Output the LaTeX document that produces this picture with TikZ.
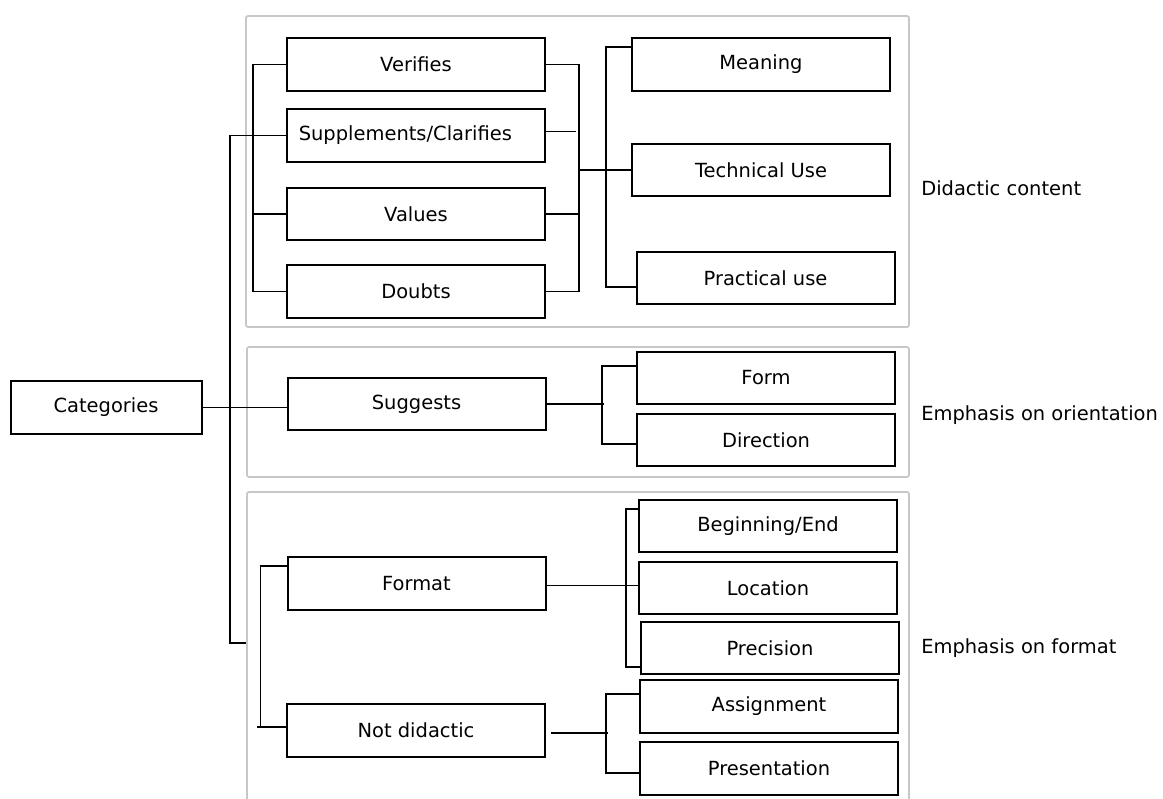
\documentclass[tikz,border=0pt]{standalone}
\usepackage{fontspec}
\setmainfont{DejaVu Sans}
\usepackage{tikz}

\tikzset{
  catbox/.style={draw, line width=1.5pt, minimum width=193.5pt, minimum height=39.5pt, inner sep=0pt, font=\fontsize{14.6}{17}\selectfont},
  groupbox/.style={draw=black!22, line width=1.3pt, rounded corners=1.5pt},
  grouplabel/.style={anchor=west, inner sep=0pt, font=\fontsize{14.6}{17}\selectfont},
  link/.style={line width=1.3pt}
}

\begin{document}
\begin{tikzpicture}[x=0.75pt,y=-0.75pt]
\useasboundingbox (0,0) rectangle (1163,799);

% group frames
\draw[groupbox] (246,16) rectangle (909,327);
\draw[groupbox] (247,347) rectangle (909,477);
\draw[groupbox] (247,799) |- (909,492) -- (909,799);

% root
\node[catbox, minimum width=143.25pt] (categories) at (106,407.5) {Categories};

% Didactic content
\node[catbox] (verifies) at (416,64.5) {Verifies};
\node[catbox] (supp) at (416,135.5) {\hspace*{-16pt}Supplements/Clarifies};
\node[catbox] (values) at (416,214) {Values};
\node[catbox] (doubts) at (416,291.5) {Doubts};
\node[catbox] (meaning) at (761,64.5) {Meaning};
\node[catbox] (techuse) at (761,170) {Technical Use};
\node[catbox] (practical) at (765.5,278) {Practical use};
\node[grouplabel] (didlabel) at (921,188) {Didactic content};

\draw[link] (verifies.west) -- ++(-33,0) |- (doubts.west);
\draw[link] (values.west) -- ++(-33,0);
\draw[link] (verifies.east) -- ++(33,0) coordinate (rb) |- (doubts.east);
\draw[link] (values.east) -- ++(33,0);
\draw[link] ([yshift=3pt]supp.east) -- ++(30,0);
\draw[link] (rb |- techuse.west) -- (techuse.west);
\draw[link] ([yshift=-7.5pt]meaning.north west) -- ++(-25,0) |- ([yshift=14pt]practical.south west);

% Emphasis on orientation
\node[catbox] (suggests) at (416.5,404) {Suggests};
\node[catbox] (form) at (766,378) {Form};
\node[catbox] (direction) at (766,440) {Direction};
\node[grouplabel] (orilabel) at (921,415) {Emphasis on orientation};

\draw[link] (categories.east) -- (categories.east -| suggests.west);
\draw[link] (suggests.east) -- ++(57,0);
\draw[link] ([yshift=9pt]form.west) -- ++(-34,0) |- ([yshift=-3pt]direction.west);

% Emphasis on format
\node[catbox] (format) at (416.5,583.5) {Format};
\node[catbox] (notdid) at (416,730.5) {Not didactic};
\node[catbox] (begend) at (768,526) {Beginning/End};
\node[catbox] (location) at (768,588) {Location};
\node[catbox] (precision) at (770,648) {Precision};
\node[catbox] (assign) at (769,706.5) {Assignment};
\node[catbox] (present) at (769,768.5) {Presentation};
\node[grouplabel] (fmtlabel) at (921,648) {Emphasis on format};

\draw[link] ([yshift=13pt]format.west) -- ++(-26,0) |- ([yshift=2.6pt]notdid.west);
\draw[link] ([yshift=2.6pt]notdid.west) -- ++(-29,0);
\draw[link] ([yshift=-1.5pt]format.east) coordinate (fmtout) -- (fmtout -| location.west);
\draw[link] ([yshift=12.75pt]begend.west) -- ++(-12,0) |- ([yshift=-14.25pt]precision.west);
\draw[link] ([xshift=4pt,yshift=-1.9pt]notdid.east) -- ++(56.5,0);
\draw[link] ([yshift=9.4pt]assign.west) -- ++(-33,0) |- ([yshift=-3.4pt]present.west);

% spine from root to the groups
\draw[link] (supp.west) -- ++(-56,0) |- (246,643);

\end{tikzpicture}
\end{document}
